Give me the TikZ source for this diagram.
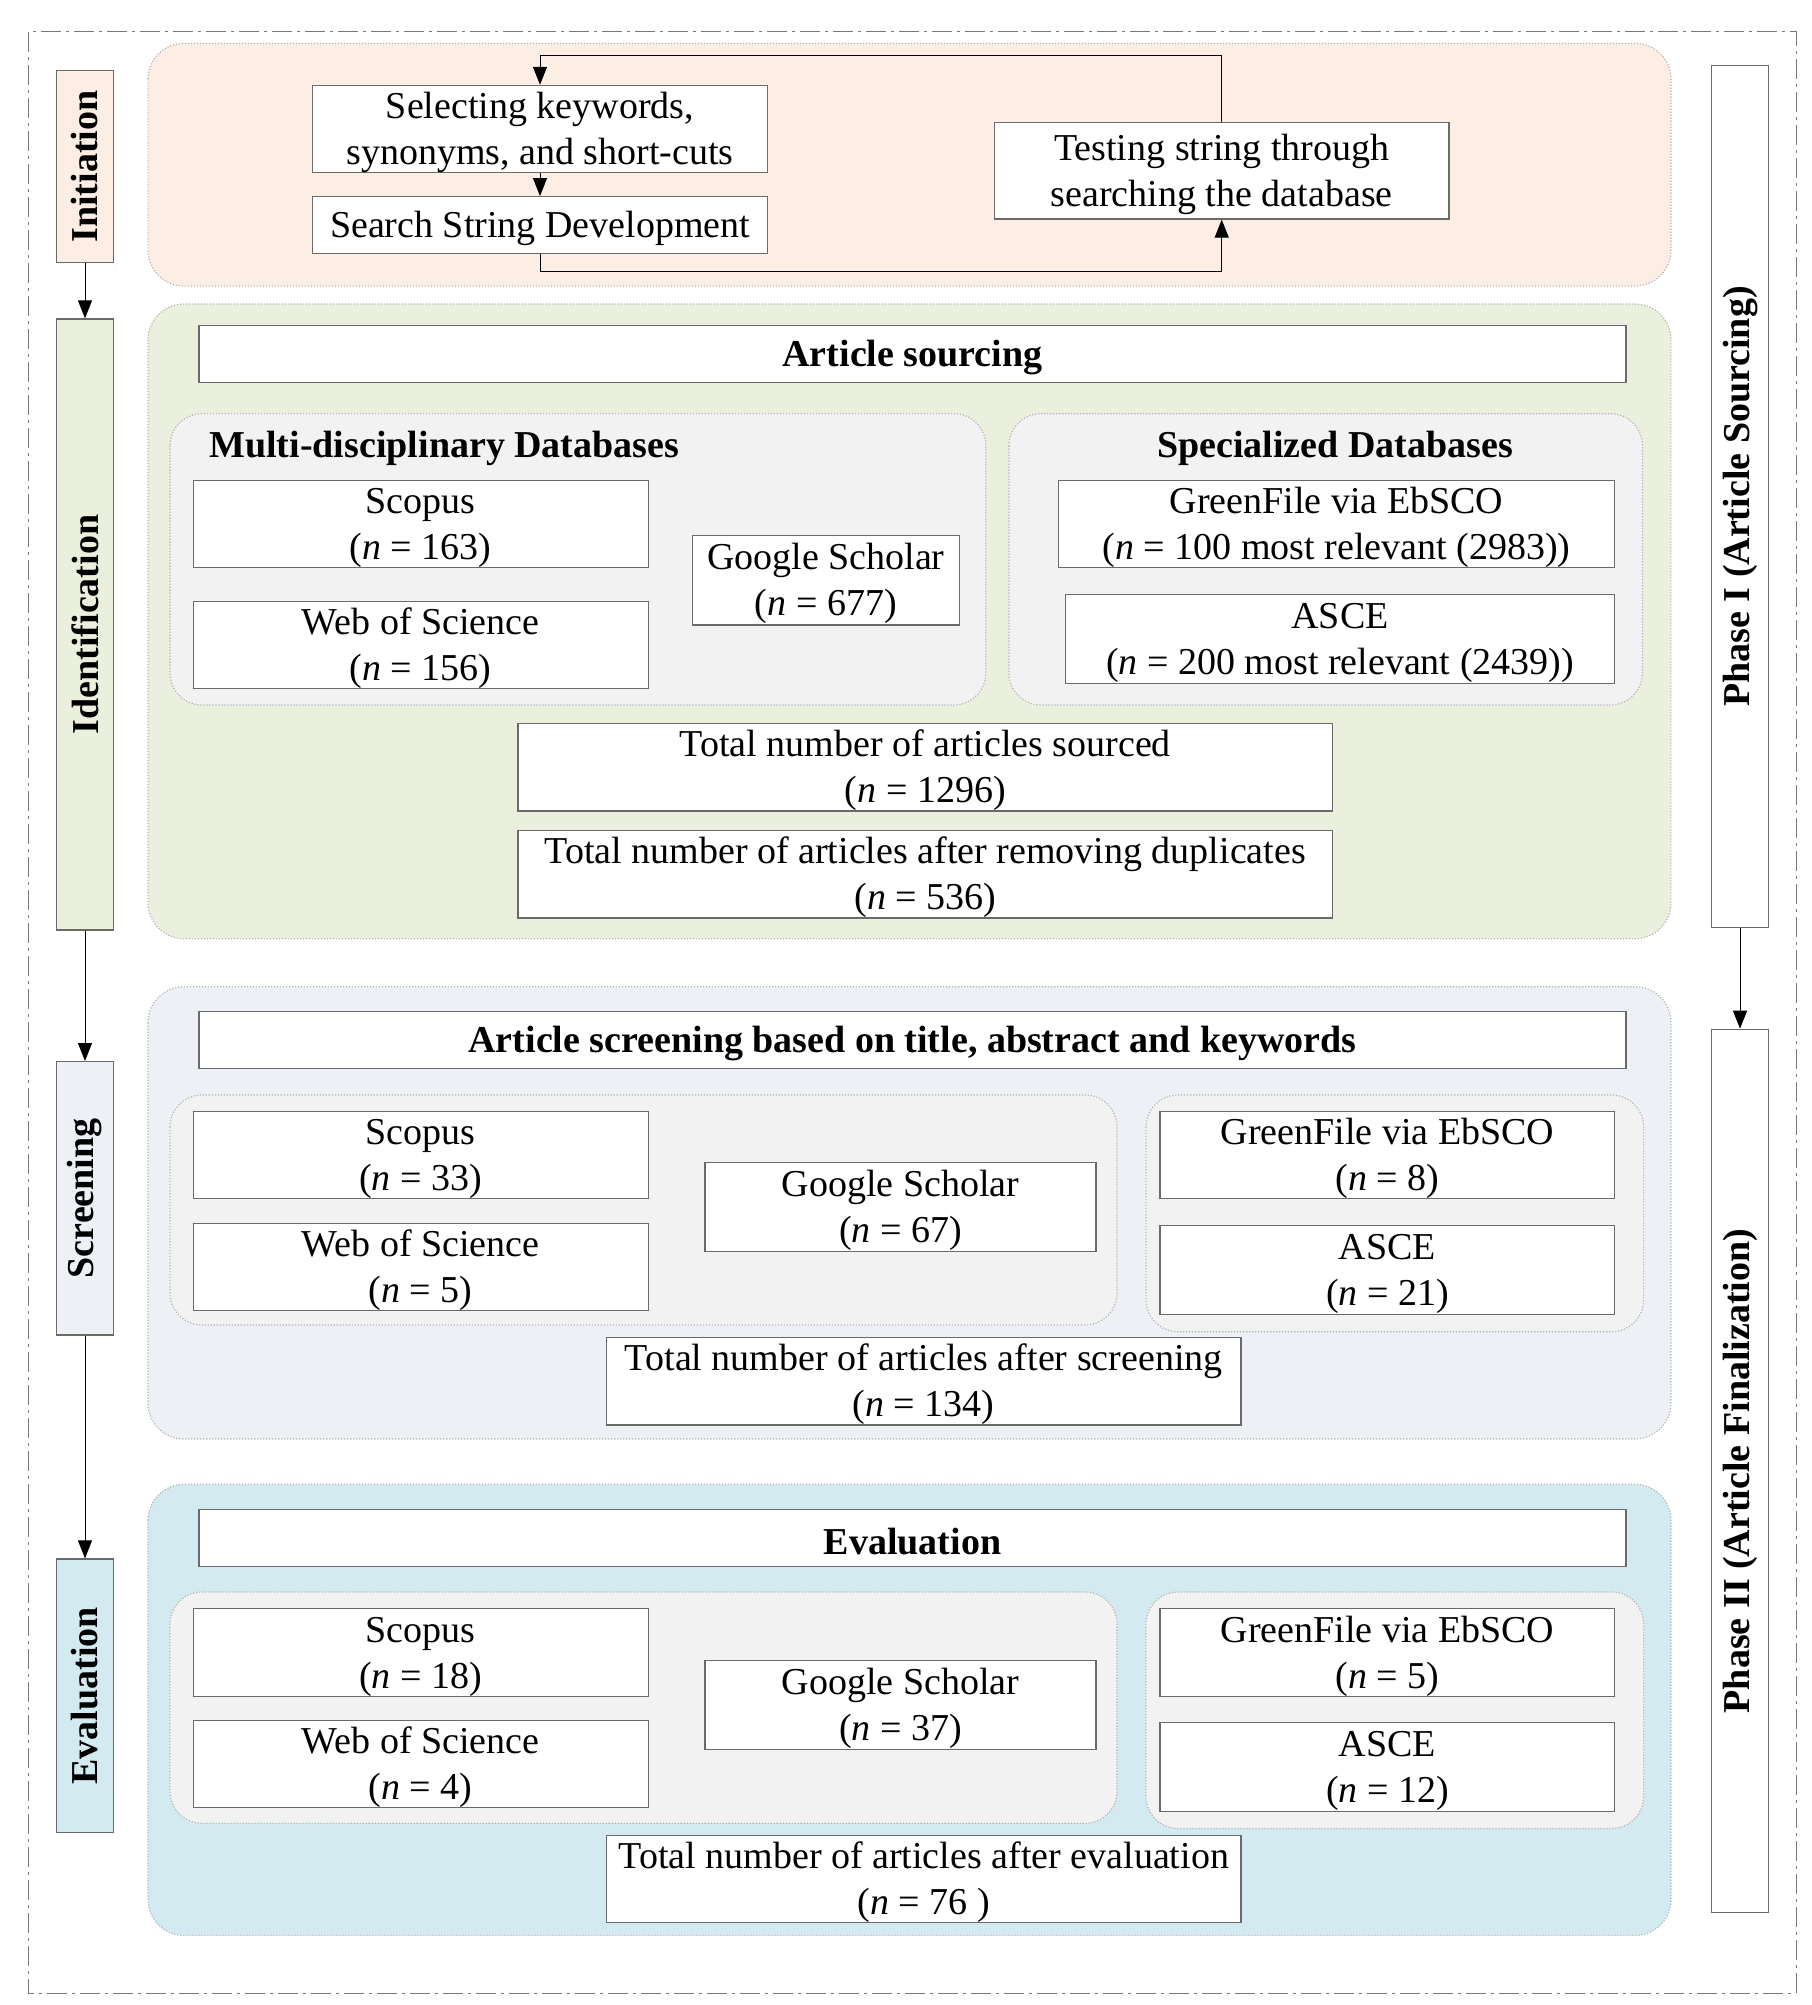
\documentclass[tikz,border=0pt]{standalone}
\usepackage{fontspec}
\setmainfont{Liberation Serif}
\usepackage{graphicx}
\usepackage{xcolor}
\usetikzlibrary{arrows.meta}

\definecolor{initfill}{HTML}{FCEEE4}
\definecolor{identfill}{HTML}{EBF0DE}
\definecolor{scrnfill}{HTML}{EDF0F5}
\definecolor{evalfill}{HTML}{D3EAF0}
\definecolor{subfill}{HTML}{F2F2F2}
\definecolor{boxline}{HTML}{6A6A6A}
\definecolor{regionline}{HTML}{B4B4B4}
\definecolor{frameline}{HTML}{7A7A7A}

\tikzset{
	box/.style={draw=boxline, fill=white, line width=0.6pt, align=center, inner sep=0pt, font=\fontsize{19}{23}\selectfont, execute at begin node={\rule{0pt}{#1}}},
	box/.default=39.5pt,
	sidebox/.style={draw=boxline, line width=0.6pt, inner sep=0pt, minimum width=28.5pt, font=\fontsize{19}{23}\selectfont\bfseries},
	region/.style={draw=regionline, line width=0.6pt, dash pattern=on 0.6pt off 0.9pt, rounded corners=18pt},
	subregion/.style={draw=regionline, fill=subfill, line width=0.6pt, dash pattern=on 0.6pt off 0.9pt, rounded corners=16pt},
	arr/.style={-{Triangle[length=9pt,width=7pt]}, line width=0.5pt},
	heading/.style={inner sep=0pt, font=\fontsize{19}{23}\selectfont\bfseries},
}

\begin{document}
\begin{tikzpicture}[x=0.5pt, y=-0.5pt]
			\useasboundingbox (0,0) rectangle (1811,2005);
			\draw[frameline, line width=0.5pt, dash pattern=on 10pt off 2.5pt on 1.5pt off 2.5pt] (28,32) rectangle (1796,1993);

			% stage backgrounds
			\draw[region, fill=initfill] (148,43.3) rectangle (1671,286);
			\draw[region, fill=identfill] (148,304) rectangle (1671,938.7);
			\draw[region, fill=scrnfill] (148,986.7) rectangle (1671,1439);
			\draw[region, fill=evalfill] (148,1484.3) rectangle (1671,1935.5);

			\draw[subregion] (170,413.7) rectangle (985.8,705);
			\draw[subregion] (1008.9,413.7) rectangle (1642.4,705);
			\draw[subregion] (170,1095) rectangle (1117,1325);
			\draw[subregion] (1146,1095) rectangle (1643.6,1331.7);
			\draw[subregion] (170,1592) rectangle (1117,1823.2);
			\draw[subregion] (1146,1592) rectangle (1643.6,1828.4);

			% stage labels
			\node[sidebox, fill=initfill, minimum height=95.8pt] (initlbl) at (85,166.5) {\rotatebox{90}{Initiation}};
			\node[sidebox, fill=identfill, minimum height=305.5pt] (identlbl) at (85,624.5) {\rotatebox{90}{Identification}};
			\node[sidebox, fill=scrnfill, minimum height=136.7pt] (scrnlbl) at (85,1198.3) {\rotatebox{90}{Screening}};
			\node[sidebox, fill=evalfill, minimum height=136.8pt] (evallbl) at (85,1695.8) {\rotatebox{90}{Evaluation}};
			\draw[arr] (initlbl.south) -- (identlbl.north);
			\draw[arr] (identlbl.south) -- (scrnlbl.north);
			\draw[arr] (scrnlbl.south) -- (evallbl.north);

			\node[sidebox, fill=white, minimum height=430.8pt] (phase1) at (1740,496.5) {\rotatebox{90}{Phase I (Article Sourcing)}};
			\node[sidebox, fill=white, minimum height=441.7pt] (phase2) at (1740,1471) {\rotatebox{90}{Phase II (Article Finalization)}};
			\draw[arr] (phase1.south) -- (phase2.north);

			% initiation
			\node[box, minimum width=227.5pt, minimum height=42.5pt] (sel) at (540,129) {Selecting keywords,\\synonyms, and short-cuts};
			\node[box=16.5pt, minimum width=227.5pt, minimum height=28.3pt] (dev) at (540,225) {Search String Development};
			\node[box, minimum width=227.3pt, minimum height=48.2pt] (test) at (1221.7,170.8) {Testing string through\\searching the database};
			\draw[arr] (sel.south) -- (dev.north);
			\draw[arr] (dev.south) -- ++(0,18) -| (test.south);
			\draw[arr] (test.north) -- ++(0,-66.7) -| (sel.north);

			% identification
			\node[box=16.5pt, minimum width=713.5pt, minimum height=28.4pt, font=\fontsize{19}{23}\selectfont\bfseries] (srctitle) at (912.5,354.3) {Article sourcing};
			\node[heading, anchor=base west] (multititle) at (209,457.5) {Multi-disciplinary Databases};
			\node[heading, anchor=base] (spectitle) at (1335,457.5) {Specialized Databases};
			\node[box, minimum width=227.4pt, minimum height=43.6pt] (idscopus) at (420.7,524.3) {Scopus\\(\textit{n} = 163)};
			\node[box, minimum width=227.4pt, minimum height=43.6pt] (idwos) at (420.7,644.9) {Web of Science\\(\textit{n} = 156)};
			\node[box, minimum width=133.3pt, minimum height=44.8pt] (idgs) at (825.8,580.2) {Google Scholar\\(\textit{n} = 677)};
			\node[box, minimum width=278.1pt, minimum height=43.6pt] (idgf) at (1336.6,524.3) {GreenFile via EbSCO\\(\textit{n} = 100 most relevant (2983))};
			\node[box, minimum width=274.7pt, minimum height=44.4pt] (idasce) at (1340,638.7) {ASCE\\(\textit{n} = 200 most relevant (2439))};
			\node[box, minimum width=407.3pt, minimum height=43.6pt] (idtotal) at (925.3,767.3) {Total number of articles sourced\\(\textit{n} = 1296)};
			\node[box, minimum width=407.3pt, minimum height=43.6pt] (iddup) at (925.3,874.3) {Total number of articles after removing duplicates\\(\textit{n} = 536)};

			% screening
			\node[box=16.5pt, minimum width=713.5pt, minimum height=28.3pt, font=\fontsize{19}{23}\selectfont\bfseries] (scrntitle) at (912.5,1040) {Article screening based on title, abstract and keywords};
			\node[box, minimum width=227.4pt, minimum height=43.3pt] (scscopus) at (420.7,1155) {Scopus\\(\textit{n} = 33)};
			\node[box, minimum width=227.4pt, minimum height=43.3pt] (scwos) at (420.7,1266.7) {Web of Science\\(\textit{n} = 5)};
			\node[box, minimum width=195.5pt, minimum height=44.5pt] (scgs) at (900.5,1207.2) {Google Scholar\\(\textit{n} = 67)};
			\node[box, minimum width=227.4pt, minimum height=43.5pt] (scgf) at (1387.4,1155.2) {GreenFile via EbSCO\\(\textit{n} = 8)};
			\node[box, minimum width=227.4pt, minimum height=44.4pt] (scasce) at (1387.4,1269.7) {ASCE\\(\textit{n} = 21)};
			\node[box, minimum width=317.2pt, minimum height=43.6pt] (sctotal) at (923.7,1381.3) {Total number of articles after screening\\(\textit{n} = 134)};

			% evaluation
			\node[box=16.5pt, minimum width=713.5pt, minimum height=28.5pt, font=\fontsize{19}{23}\selectfont\bfseries] (evtitle) at (912.5,1537.9) {Evaluation};
			\node[box, minimum width=227.4pt, minimum height=43.8pt] (evscopus) at (420.7,1652.6) {Scopus\\(\textit{n} = 18)};
			\node[box, minimum width=227.4pt, minimum height=43.5pt] (evwos) at (420.7,1764.2) {Web of Science\\(\textit{n} = 4)};
			\node[box, minimum width=195.5pt, minimum height=44.5pt] (evgs) at (900.5,1704.7) {Google Scholar\\(\textit{n} = 37)};
			\node[box, minimum width=227.4pt, minimum height=43.8pt] (evgf) at (1387.4,1652.6) {GreenFile via EbSCO\\(\textit{n} = 5)};
			\node[box, minimum width=227.4pt, minimum height=44.7pt] (evasce) at (1387.4,1767.1) {ASCE\\(\textit{n} = 12)};
			\node[box, minimum width=317.2pt, minimum height=43.5pt] (evtotal) at (923.7,1878.9) {Total number of articles after evaluation\\(\textit{n} = 76 )};
		\end{tikzpicture}
\end{document}
